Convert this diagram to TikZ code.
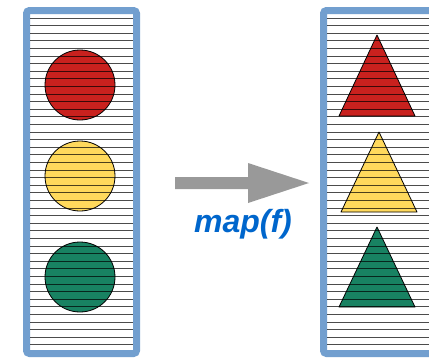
\documentclass[tikz,border=0pt]{standalone}
\usepackage{fontspec}
\setmainfont{Liberation Sans}
\definecolor{frameblue}{HTML}{729FCF}
\definecolor{shred}{HTML}{C9211E}
\definecolor{shyellow}{HTML}{FFD95C}
\definecolor{shgreen}{HTML}{188262}
\definecolor{arrowgray}{HTML}{999999}
\definecolor{txtblue}{HTML}{0066CC}
\tikzset{
  frame/.style={draw=frameblue, line width=7pt, rounded corners=3pt, fill=white},
  stripe/.style={draw=black, draw opacity=0.7, line width=0.75pt},
  disc/.style={circle, draw=black, line width=0.8pt, minimum size=70pt, inner sep=0pt},
  tri/.style={draw=black, line width=0.8pt, line join=round},
  lbl/.style={font=\bfseries\itshape\fontsize{32}{32}\selectfont, text=txtblue, inner sep=0pt}
}
\begin{document}
\begin{tikzpicture}[x=1pt,y=-1pt]
\useasboundingbox (0,0) rectangle (429,357);
% frames
\draw[frame] (26.5,10.5) rectangle (136.5,353.5);
\draw[frame] (323.5,10.5) rectangle (445,353.5);
% shapes left
\node[disc, fill=shred] (c1) at (80,85) {};
\node[disc, fill=shyellow] (c2) at (80,176) {};
\node[disc, fill=shgreen] (c3) at (80,277) {};
% shapes right
\coordinate (t1) at (377,35);
\coordinate (t2) at (379,132);
\coordinate (t3) at (377,227);
\draw[tri, fill=shred] (t1) -- ++(38,81) -- ++(-76,0) -- cycle;
\draw[tri, fill=shyellow] (t2) -- ++(38,80) -- ++(-76,0) -- cycle;
\draw[tri, fill=shgreen] (t3) -- ++(38,80) -- ++(-76,0) -- cycle;
% stripes
\begin{scope}
\clip (30,14) rectangle (133,350);
\foreach \i in {0,...,44} {
  \draw[stripe] (30,18+7.6*\i) -- (133,18+7.6*\i);
}
\end{scope}
\begin{scope}
\clip (327,14) rectangle (429,350);
\foreach \i in {0,...,44} {
  \draw[stripe] (327,18+7.6*\i) -- (429,18+7.6*\i);
}
\end{scope}
% arrow
\coordinate (as) at (175,183);
\coordinate (at) at (309,183);
\fill[arrowgray] (as) ++(0,-6) -- ++(73,0) -- ++(0,-14) -- (at) -- ++(-61,20) -- ++(0,-14) -- ++(-73,0) -- cycle;
\node[lbl] (m) at (243,224) {map(f)};
\end{tikzpicture}
\end{document}
